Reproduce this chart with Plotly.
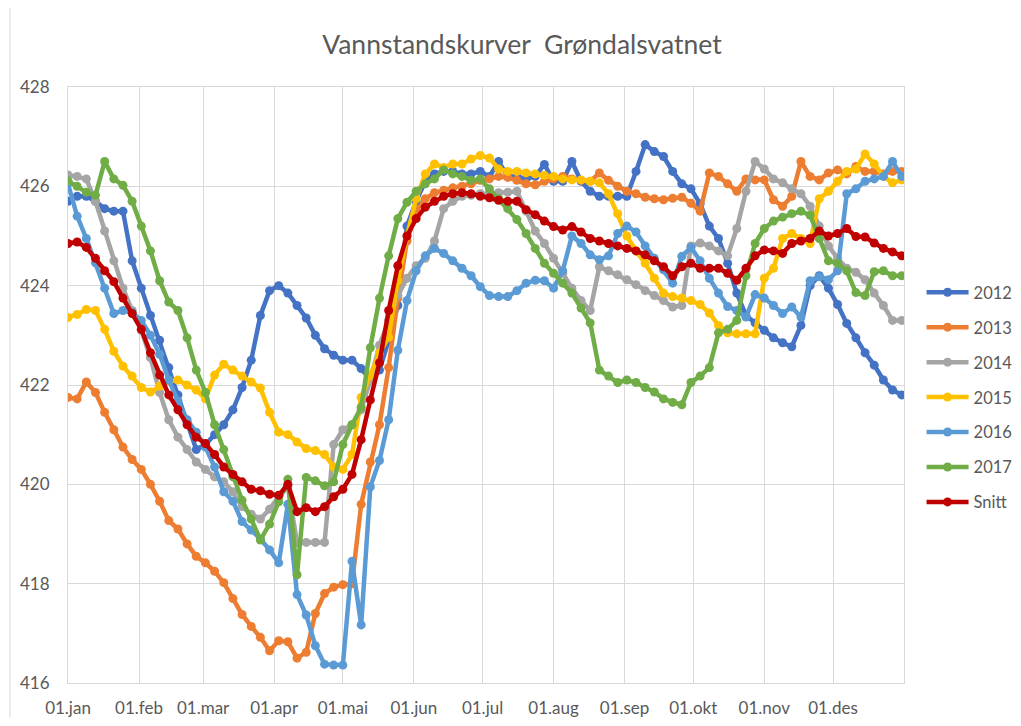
import plotly.graph_objects as go

# Day of year (0 = 01.jan), sampled every 4th day
day_of_year = list(range(0, 365, 4))

month_ticks = [0, 31, 59, 90, 120, 151, 181, 212, 243, 273, 304, 334]
month_labels = ["01.jan", "01.feb", "01.mar", "01.apr", "01.mai", "01.jun",
                "01.jul", "01.aug", "01.sep", "01.okt", "01.nov", "01.des"]

y_ticks = [416, 418, 420, 422, 424, 426, 428]

series_names = ["2012", "2013", "2014", "2015", "2016", "2017", "Snitt"]
series_colors = ["#4472C4", "#ED7D31", "#A5A5A5", "#FFC000", "#5B9BD5", "#70AD47", "#C00000"]

y2012 = [425.7, 425.8, 425.8, 425.7, 425.55, 425.5, 425.5, 424.5, 423.95, 423.4,
         422.9, 422.35, 421.8, 421.25, 420.7, 420.8, 421.0, 421.2, 421.5, 421.95,
         422.5, 423.4, 423.9, 424.0, 423.85, 423.6, 423.35, 423.0, 422.73, 422.6,
         422.5, 422.5, 422.33, 422.1, 422.3, 422.9, 423.6, 425.2, 425.7, 426.1,
         426.25, 426.3, 426.3, 426.25, 426.25, 426.3, 426.2, 426.5, 426.2, 426.2,
         426.15, 426.2, 426.44, 426.1, 426.1, 426.5, 426.1, 425.9, 425.8, 425.8,
         425.8, 425.8, 426.3, 426.84, 426.7, 426.6, 426.3, 426.05, 425.95, 425.65,
         425.2, 424.95, 424.45, 423.85, 423.4, 423.25, 423.1, 422.95, 422.85, 422.77,
         423.2, 424.0, 424.2, 423.95, 423.62, 423.24, 422.95, 422.65, 422.4, 422.1,
         421.9, 421.8]

y2013 = [421.75, 421.72, 422.06, 421.85, 421.45, 421.1, 420.75, 420.5, 420.3, 420.0,
         419.66, 419.27, 419.1, 418.8, 418.55, 418.42, 418.25, 418.02, 417.7, 417.38,
         417.14, 416.92, 416.65, 416.85, 416.83, 416.5, 416.62, 417.4, 417.8, 417.93,
         417.98, 418.0, 419.6, 420.45, 421.2, 422.35, 423.75, 424.9, 425.5, 425.75,
         425.87, 425.92, 425.97, 426.0, 426.05, 426.12, 426.15, 426.2, 426.18, 426.12,
         426.05, 426.03, 426.1, 426.15, 426.2, 426.15, 426.12, 426.1, 426.27, 426.12,
         426.0, 425.9, 425.85, 425.78, 425.75, 425.73, 425.76, 425.78, 425.66, 425.5,
         426.27, 426.2, 426.05, 425.9, 426.15, 426.13, 426.13, 425.73, 425.6, 425.8,
         426.5, 426.2, 426.13, 426.27, 426.33, 426.25, 426.4, 426.3, 426.3, 426.25,
         426.3, 426.3]

y2014 = [426.23, 426.2, 426.15, 425.7, 425.1, 424.5, 423.95, 423.5, 423.1, 422.55,
         421.85, 421.3, 420.95, 420.7, 420.45, 420.3, 420.15, 420.05, 419.85, 419.55,
         419.4, 419.3, 419.5, 419.75, 419.95, 418.83, 418.83, 418.83, 418.83, 420.8,
         421.1, 421.2, 421.5, 422.1, 422.8, 423.3, 423.8, 424.15, 424.4, 424.55,
         424.9, 425.55, 425.7, 425.8, 425.82, 425.85, 425.87, 425.87, 425.88, 425.9,
         425.5, 425.1, 424.85, 424.55, 424.25, 423.95, 423.7, 423.5, 424.38, 424.3,
         424.22, 424.12, 424.02, 423.9, 423.8, 423.7, 423.57, 423.6, 424.8, 424.86,
         424.8, 424.7, 424.6, 425.15, 425.9, 426.5, 426.35, 426.15, 426.07, 425.95,
         425.85, 425.6, 425.2, 424.8, 424.55, 424.35, 424.27, 424.12, 423.85, 423.6,
         423.3, 423.3]

y2015 = [423.36, 423.42, 423.52, 423.5, 423.12, 422.68, 422.38, 422.18, 421.95, 421.86,
         421.98, 422.08, 422.1, 422.0, 421.9, 421.72, 422.2, 422.42, 422.3, 422.18,
         422.06, 421.94, 421.45, 421.05, 421.0, 420.85, 420.72, 420.68, 420.6, 420.35,
         420.3, 420.6, 421.75, 422.2, 422.65, 422.96, 424.1, 425.0, 425.75, 426.25,
         426.45, 426.38, 426.45, 426.45, 426.55, 426.62, 426.57, 426.35, 426.3, 426.3,
         426.27, 426.25, 426.22, 426.2, 426.15, 426.13, 426.13, 426.1, 426.07, 425.85,
         425.45, 425.0, 424.7, 424.45, 424.15, 423.85, 423.78, 423.75, 423.7, 423.62,
         423.45, 423.2, 423.05, 423.03, 423.03, 423.03, 424.15, 424.35, 424.95, 425.05,
         424.95, 424.85, 425.75, 425.9, 426.1, 426.3, 426.35, 426.65, 426.45, 426.2,
         426.07, 426.13]

y2016 = [426.05, 425.4, 424.95, 424.46, 423.95, 423.44, 423.5, 423.46, 423.3, 423.0,
         422.62, 422.1, 421.68, 421.3, 421.05, 420.75, 420.35, 419.85, 419.66, 419.25,
         419.08, 418.9, 418.68, 418.42, 419.6, 417.78, 417.37, 416.75, 416.38, 416.36,
         416.36, 418.45, 417.17, 419.95, 420.48, 421.3, 422.7, 423.7, 424.3, 424.6,
         424.75, 424.65, 424.5, 424.35, 424.2, 423.98, 423.8, 423.78, 423.78, 423.9,
         424.05, 424.11, 424.1, 423.95, 424.3, 425.0, 424.85, 424.62, 424.52, 424.6,
         425.05, 425.2, 425.08, 424.8, 424.55, 424.32, 424.05, 424.59, 424.77, 424.5,
         424.15, 423.85, 423.58, 423.5, 423.37, 423.82, 423.75, 423.6, 423.44, 423.57,
         423.37, 424.1, 424.18, 424.12, 424.3, 425.85, 425.95, 426.1, 426.15, 426.2,
         426.5, 426.2]

y2017 = [426.11, 426.0, 425.88, 425.82, 426.5, 426.15, 426.02, 425.7, 425.2, 424.7,
         424.1, 423.67, 423.5, 422.95, 422.3, 421.85, 421.2, 420.7, 420.15, 419.68,
         419.3, 418.88, 419.2, 419.65, 420.1, 418.18, 420.14, 420.07, 419.97, 420.05,
         420.8, 421.2, 421.55, 422.75, 423.75, 424.6, 425.35, 425.68, 425.9, 426.05,
         426.15, 426.33, 426.25, 426.2, 426.12, 426.15, 425.95, 425.75, 425.55, 425.33,
         425.05, 424.75, 424.45, 424.25, 424.05, 423.85, 423.55, 423.25, 422.3, 422.18,
         422.05, 422.1, 422.05, 421.95, 421.86, 421.72, 421.65, 421.6, 422.05, 422.18,
         422.35, 423.05, 423.12, 423.3, 424.2, 424.85, 425.15, 425.3, 425.38, 425.45,
         425.5, 425.42, 424.95, 424.5, 424.45, 424.3, 423.86, 423.8, 424.28, 424.3,
         424.2, 424.2]

ysnitt = [424.85, 424.88, 424.77, 424.55, 424.3, 424.08, 423.75, 423.44, 423.12, 422.65,
          422.2, 421.8, 421.5, 421.2, 420.95, 420.82, 420.6, 420.35, 420.2, 420.05,
          419.9, 419.87, 419.8, 419.78, 420.0, 419.45, 419.53, 419.45, 419.55, 419.75,
          419.9, 420.2, 420.9, 421.7, 422.45, 423.5, 424.4, 425.0, 425.35, 425.58,
          425.7, 425.8, 425.85, 425.87, 425.85, 425.8, 425.77, 425.72, 425.7, 425.7,
          425.53, 425.43, 425.3, 425.19, 425.12, 425.19, 425.08, 424.95, 424.9, 424.85,
          424.8, 424.75, 424.7, 424.62, 424.5, 424.38, 424.2, 424.38, 424.45, 424.35,
          424.35, 424.35, 424.25, 424.11, 424.35, 424.6, 424.72, 424.7, 424.65, 424.85,
          424.9, 424.95, 425.1, 425.0, 425.05, 425.15, 424.99, 424.98, 424.86, 424.75,
          424.68, 424.6]

series_values = [y2012, y2013, y2014, y2015, y2016, y2017, ysnitt]

FONT = "Lato"
TXT = "#595959"
GRID = "#D9D9D9"

fig = go.Figure()
for name, color, vals in zip(series_names, series_colors, series_values):
    fig.add_trace(go.Scatter(
        x=day_of_year, y=vals, name=name, mode="lines+markers",
        line=dict(color=color, width=4.5),
        marker=dict(color=color, size=9, symbol="circle"),
        legendgroup=name,
    ))

# the page body has an 8px margin; size the figure so the page never overflows
fig.update_layout(
    width=1005, height=710,
    paper_bgcolor="white", plot_bgcolor="white",
    margin=dict(l=60, r=109, t=79, b=35, autoexpand=False),
    title=dict(text="Vannstandskurver  Grøndalsvatnet", x=0.5114, xanchor="center",
               y=0.948, yanchor="middle",
               font=dict(family=FONT, size=26.5, color=TXT)),
    font=dict(family=FONT, color=TXT),
    showlegend=True,
    legend=dict(x=1.021, xanchor="left", y=0.479, yanchor="middle",
                font=dict(family=FONT, size=16.5, color=TXT),
                itemwidth=42,
                tracegroupgap=10.5, bgcolor="rgba(0,0,0,0)"),
    xaxis=dict(range=[0, 365], tickmode="array", tickvals=month_ticks, ticktext=month_labels,
               showgrid=True, gridcolor=GRID, gridwidth=1,
               showline=True, linecolor=GRID, linewidth=1, mirror=True,
               zeroline=False, ticks="", ticklabelstandoff=10,
               tickfont=dict(family=FONT, size=17, color=TXT)),
    yaxis=dict(range=[416, 428], tickmode="array", tickvals=y_ticks,
               showgrid=True, gridcolor=GRID, gridwidth=1,
               showline=True, linecolor=GRID, linewidth=1, mirror=True,
               zeroline=False, ticks="", ticklabelstandoff=14,
               tickfont=dict(family=FONT, size=17, color=TXT)),
    shapes=[dict(type="line", xref="paper", yref="paper",
                 x0=-0.0694, x1=-0.0694, y0=-0.06, y1=1.14,
                 line=dict(color=GRID, width=1))],
)

fig.write_html("out.html")
